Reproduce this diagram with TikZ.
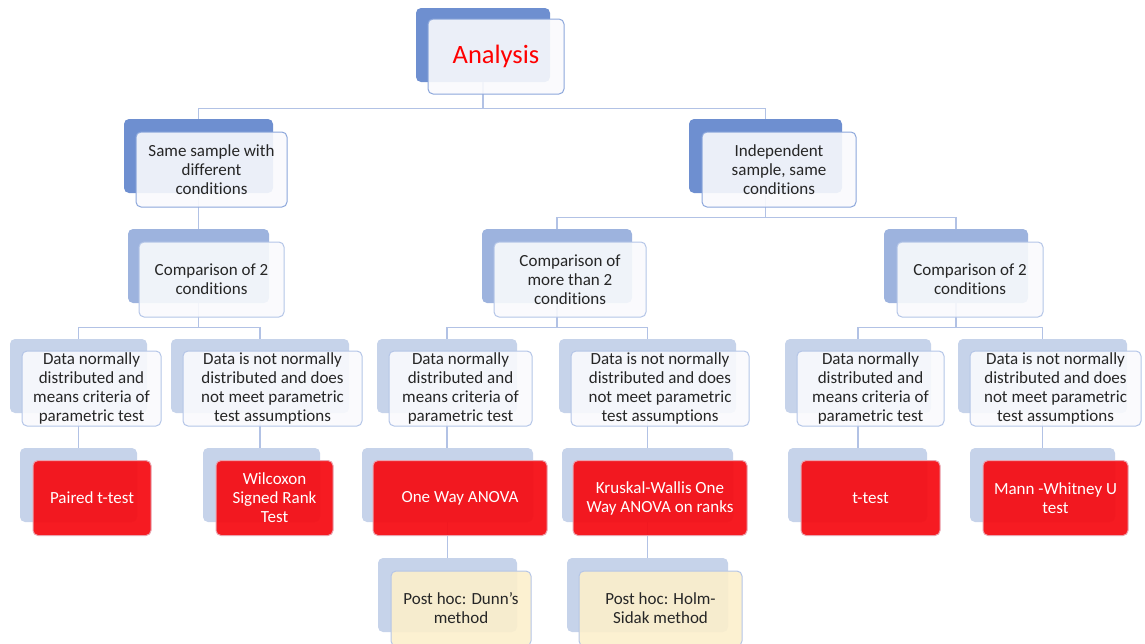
\documentclass[tikz,border=0pt]{standalone}
\usepackage{fontspec}
\setmainfont{Carlito}[Ligatures=NoCommon]
\definecolor{backA}{HTML}{6E8FD0}
\definecolor{backB}{HTML}{9DB3DE}
\definecolor{backC}{HTML}{C6D3EA}
\definecolor{frontFill}{HTML}{F9FAFD}
\definecolor{frontDrawA}{HTML}{8CA7DB}
\definecolor{frontDrawB}{HTML}{B4C5E7}
\definecolor{redFill}{HTML}{F50F16}
\definecolor{redDraw}{HTML}{E9A3AE}
\definecolor{creamFill}{HTML}{FCEFCC}
\definecolor{lineCol}{HTML}{B2C2E5}
\definecolor{txt}{HTML}{262626}
\tikzset{
  backbox/.style={rectangle, rounded corners=5pt, minimum height=74pt, inner sep=0pt, draw=none},
  backA/.style={backbox, fill=backA},
  backB/.style={backbox, fill=backB},
  backC/.style={backbox, fill=backC},
  frontbox/.style={rectangle, rounded corners=5pt, minimum height=75pt, inner sep=0pt, line width=1pt,
    fill opacity=0.9, text opacity=1, align=center, font=\fontsize{17}{19}\selectfont, text=txt},
  frontA/.style={frontbox, fill=frontFill, draw=frontDrawA},
  frontB/.style={frontbox, fill=frontFill, draw=frontDrawB},
  redbox/.style={frontbox, fill=redFill, draw=redDraw, text=white, fill opacity=0.95},
  creambox/.style={frontbox, fill=creamFill, draw=frontDrawB},
  conn/.style={draw=lineCol, line width=1.2pt},
}
\begin{document}
\begin{tikzpicture}[x=1pt,y=-1pt]
\useasboundingbox (0,0) rectangle (1145,643);
% back shapes
\node[backA, minimum width=134pt] (anb) at (483,45) {};
\node[backA, minimum width=149pt] (s1b) at (198.5,156) {};
\node[backA, minimum width=153pt] (s2b) at (765.5,156) {};
\node[backB, minimum width=141pt] (c1b) at (198.5,266) {};
\node[backB, minimum width=150pt] (c2b) at (557,266) {};
\node[backB, minimum width=144pt] (c3b) at (956,266) {};
\node[backC, minimum width=137pt] (d1b) at (78.5,376) {};
\node[backC, minimum width=178pt] (d2b) at (260,376) {};
\node[backC, minimum width=140pt] (d3b) at (447,376) {};
\node[backC, minimum width=177pt] (d4b) at (647.5,376) {};
\node[backC, minimum width=146pt] (d5b) at (858,376) {};
\node[backC, minimum width=169pt] (d6b) at (1042.5,376) {};
\node[backC, minimum width=117pt] (t1b) at (78.5,485) {};
\node[backC, minimum width=117pt] (t2b) at (261.5,485) {};
\node[backC, minimum width=171pt] (t3b) at (447.5,485) {};
\node[backC, minimum width=171pt] (t4b) at (647.5,485) {};
\node[backC, minimum width=139pt] (t5b) at (857.5,485) {};
\node[backC, minimum width=145pt] (t6b) at (1042.5,485) {};
\node[backC, minimum width=139pt] (p1b) at (447.5,595) {};
\node[backC, minimum width=161pt] (p2b) at (647.5,595) {};
% connectors
\draw[conn] (anb.south) -- ++(0,26) -| (s1b.north);
\draw[conn] (anb.south) -- ++(0,26) -| (s2b.north);
\draw[conn] (s1b.south) -- (c1b.north);
\draw[conn] (s2b.south) -- ++(0,24) -| (c2b.north);
\draw[conn] (s2b.south) -- ++(0,24) -| (c3b.north);
\draw[conn] (c1b.south) -- ++(0,24) -| (d1b.north);
\draw[conn] (c1b.south) -- ++(0,24) -| (d2b.north);
\draw[conn] (c2b.south) -- ++(0,24) -| (d3b.north);
\draw[conn] (c2b.south) -- ++(0,24) -| (d4b.north);
\draw[conn] (c3b.south) -- ++(0,24) -| (d5b.north);
\draw[conn] (c3b.south) -- ++(0,24) -| (d6b.north);
\draw[conn] (d1b.south) -- (t1b.north -| d1b.south);
\draw[conn] (d2b.south) -- (t2b.north -| d2b.south);
\draw[conn] (d3b.south) -- (t3b.north -| d3b.south);
\draw[conn] (d4b.south) -- (t4b.north -| d4b.south);
\draw[conn] (d5b.south) -- (t5b.north -| d5b.south);
\draw[conn] (d6b.south) -- (t6b.north -| d6b.south);
\draw[conn] (t3b.south) -- (p1b.north -| t3b.south);
\draw[conn] (t4b.south) -- (p2b.north -| t4b.south);
% front shapes
\node[frontA, minimum width=136pt, text=red, font=\fontsize{26.5}{30}\selectfont] (an) at (496,56.5) {Analysis};
\node[frontA, minimum width=151pt] (s1) at (211.5,169.5) {Same sample with\\different\\conditions};
\node[frontA, minimum width=154pt] (s2) at (779,169.5) {Independent\\sample, same\\conditions};
\node[frontB, minimum width=145pt] (c1) at (211.5,279.5) {Comparison of 2\\conditions};
\node[frontB, minimum width=152pt] (c2) at (570,279.5) {Comparison of\\more than 2\\conditions};
\node[frontB, minimum width=146pt] (c3) at (970,279.5) {Comparison of 2\\conditions};
\node[frontB, minimum width=139pt] (d1) at (91.5,388.5) {Data normally\\distributed and\\means criteria of\\parametric test};
\node[frontB, minimum width=179pt] (d2) at (272.5,388.5) {Data is not normally\\distributed and does\\not meet parametric\\test assumptions};
\node[frontB, minimum width=143pt] (d3) at (460.5,388.5) {Data normally\\distributed and\\means criteria of\\parametric test};
\node[frontB, minimum width=178pt] (d4) at (660,388.5) {Data is not normally\\distributed and does\\not meet parametric\\test assumptions};
\node[frontB, minimum width=147pt] (d5) at (870.5,388.5) {Data normally\\distributed and\\means criteria of\\parametric test};
\node[frontB, minimum width=171pt] (d6) at (1055.5,388.5) {Data is not normally\\distributed and does\\not meet parametric\\test assumptions};
\node[redbox, minimum width=118pt] (t1) at (92,498) {Paired t-test};
\node[redbox, minimum width=117pt] (t2) at (274.5,498) {Wilcoxon\\Signed Rank\\Test};
\node[redbox, minimum width=174pt] (t3) at (460,498) {One Way ANOVA};
\node[redbox, minimum width=174pt] (t4) at (660,498) {Kruskal-Wallis One\\Way ANOVA on ranks};
\node[redbox, minimum width=139pt] (t5) at (870.5,498) {t-test};
\node[redbox, minimum width=145pt] (t6) at (1055.5,498) {Mann -Whitney U\\test};
\node[creambox, minimum width=140pt] (p1) at (461,608.5) {Post hoc: Dunn’s\\method};
\node[creambox, minimum width=163pt] (p2) at (660.5,608.5) {Post hoc: Holm-\\Sidak method};
\end{tikzpicture}
\end{document}
